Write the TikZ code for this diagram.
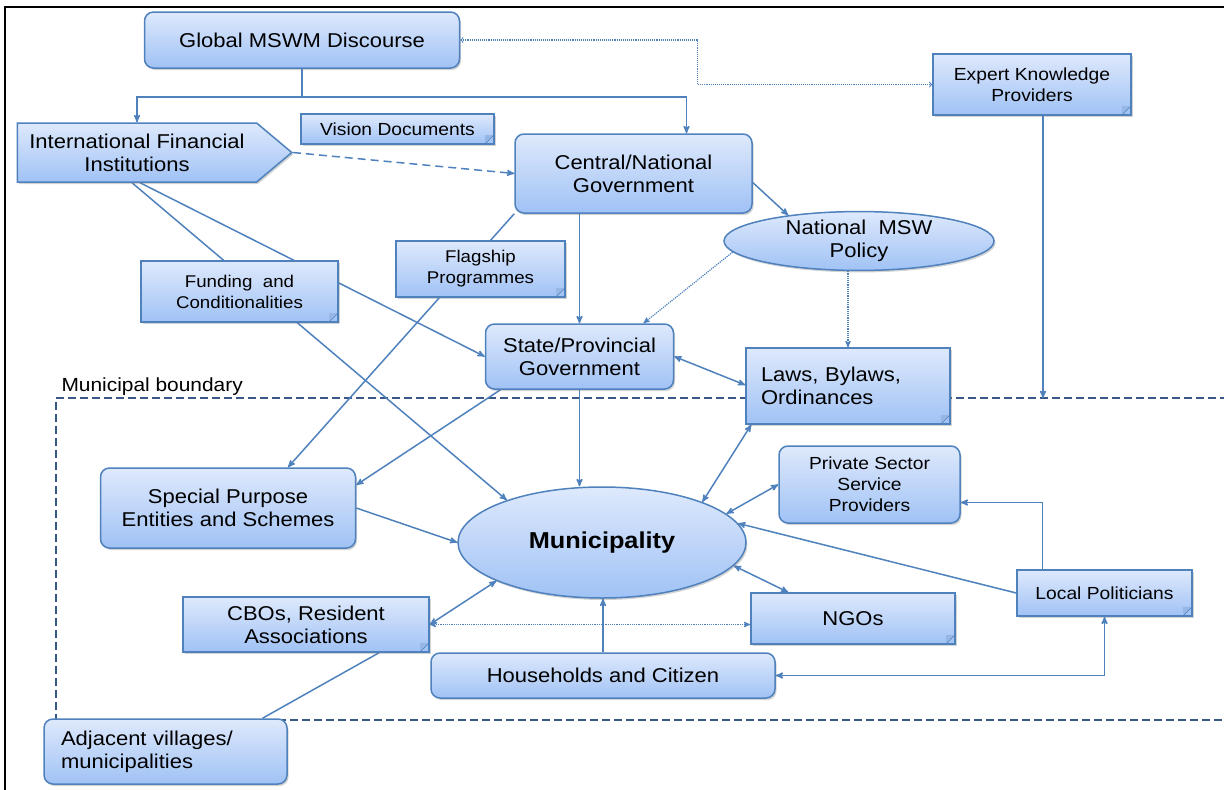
\documentclass[tikz,border=0pt]{standalone}
\usepackage{fontspec}
\setmainfont{Liberation Sans}[FakeStretch=1.1]
\usetikzlibrary{arrows,positioning,calc,shapes.geometric,shapes.symbols,shadows}
\pgfdeclarelayer{background}
\pgfsetlayers{background,main}
\tikzset{
	>=stealth',
}
\definecolor{boxline}{RGB}{79,129,189}
\definecolor{boxtop}{RGB}{222,233,252}
\definecolor{boxbottom}{RGB}{160,194,245}
\definecolor{boxfold}{RGB}{150,183,230}
\definecolor{boundline}{RGB}{58,88,135}

\begin{document}
\begin{tikzpicture}[x=1pt, y=-1pt,
basebox/.style = {draw=boxline, line width=1.5pt, top color=boxtop, bottom color=boxbottom, drop shadow={shadow xshift=1.5pt, shadow yshift=-2pt, opacity=0.35}, align=center, inner sep=0pt, font=\fontsize{20}{23}\selectfont},
roundbox/.style = {basebox, rectangle, rounded corners=9pt},
notebox/.style = {basebox, rectangle, path picture={
	\fill[boxfold] ($(path picture bounding box.south east)+(-9pt,0pt)$) -- ++(9pt,9pt) -- ++(-9pt,0pt) -- cycle;
	\draw[boxline, line width=0.6pt] ($(path picture bounding box.south east)+(-9pt,0pt)$) -- ++(9pt,9pt);}},
ovalnode/.style = {basebox, ellipse},
flagnode/.style = {basebox, signal, signal to=east, signal pointer angle=80, inner xsep=12pt, minimum height=59pt},
smalltext/.style = {font=\fontsize{17.5}{21}\selectfont},
conn/.style = {draw=boxline, line width=1.5pt},
bound/.style = {draw=boundline, line width=2pt, dash pattern=on 8pt off 4pt}]
\useasboundingbox (0,0) rectangle (1224,790);
\draw[line width=2.2pt] (5,792) -- (5,7) -- (1226,7);

% outside the municipality
\node[roundbox, minimum width=315pt, minimum height=56pt] (globalbox) at (302,40) {Global MSWM Discourse};
\node[notebox, smalltext, minimum width=198pt, minimum height=61pt] (expertbox) at (1032,84.5) {Expert Knowledge\\Providers};
\node[flagnode] (ifibox) at (137,152.5) {International Financial\\Institutions};
\node[notebox, smalltext, minimum width=193pt, minimum height=30pt] (visionbox) at (397.5,129) {Vision Documents};
\node[roundbox, minimum width=237pt, minimum height=79pt] (centralbox) at (633.5,173.5) {Central/National\\Government};
\node[ovalnode, minimum width=270pt, minimum height=56pt] (policyell) at (859,241) {National\ \ MSW\\Policy};
\node[notebox, font=\fontsize{17}{21}\selectfont, minimum width=197pt, minimum height=61pt] (fundingbox) at (239.5,291.5) {Funding\ \ and\\Conditionalities};
\node[notebox, font=\fontsize{17}{21}\selectfont, minimum width=169pt, minimum height=56pt] (flagshipbox) at (480.5,269) {Flagship\\Programmes};
\node[roundbox, minimum width=188pt, minimum height=65pt] (statebox) at (579.5,356.5) {State/Provincial\\Government};
\node[notebox, minimum width=204pt, minimum height=76pt, text width=174pt, align=left] (lawsbox) at (848,386) {Laws, Bylaws,\\Ordinances};
\node[anchor=base west, font=\fontsize{19}{22}\selectfont] (bndlabel) at (58,391) {Municipal boundary};

% inside the municipality
\node[ovalnode, minimum width=288pt, minimum height=111pt, font=\fontsize{23}{26}\selectfont\bfseries] (municell) at (602,542.5) {Municipality};
\node[roundbox, smalltext, minimum width=181pt, minimum height=77pt] (privatebox) at (869.5,484.5) {Private Sector\\Service\\Providers};
\node[roundbox, minimum width=255pt, minimum height=80pt] (specialbox) at (228,508) {Special Purpose\\Entities and Schemes};
\node[notebox, minimum width=246pt, minimum height=55pt] (cbobox) at (306,624.5) {CBOs, Resident\\Associations};
\node[notebox, minimum width=204pt, minimum height=51pt] (ngobox) at (853,618.5) {NGOs};
\node[notebox, smalltext, minimum width=175pt, minimum height=46pt] (localbox) at (1104.5,593) {Local Politicians};
\node[roundbox, minimum width=344pt, minimum height=45pt] (housebox) at (603,675.5) {Households and Citizen};
\node[roundbox, minimum width=243pt, minimum height=65pt, text width=209pt, align=left] (adjbox) at (165.5,751.5) {Adjacent villages/\\municipalities};

\begin{pgfonlayer}{background}
\coordinate (bndnw) at (56,398);
\coordinate (bndne) at (1228,398);
\coordinate (bndsw) at (56,720);
\coordinate (bndse) at (1228,720);
\draw[bound] (bndne) -- (bndnw) -- (bndsw) -- (bndse);

\coordinate (globalfork) at ($(globalbox.south)+(0,28)$);
\draw[conn] (globalbox.south) -- (globalfork);
\draw[conn,->] (globalfork) -| (ifibox.north);
\draw[conn,->] (globalfork) -| ($(centralbox.north)+(53,0)$);
\draw[conn, line width=1.1pt, densely dotted, >=to, <->] (globalbox.east) -- ++(237,0) |- (expertbox.west);
\draw[conn, dash pattern=on 8pt off 5pt, ->] (ifibox.east) -- (centralbox.west);
\draw[conn,->] ($(ifibox.south)+(3,0)$) -- (statebox.west);
\draw[conn,->] ($(ifibox.south)+(-5,0)$) -- (municell.156);

\draw[conn,->] (centralbox.south -| statebox.north) -- (statebox.north);
\draw[conn,->] ($(centralbox.east)+(0,9)$) -- (policyell.160);
\draw[conn,->] (centralbox.south west) -- ($(specialbox.north)+(60,0)$);
\draw[conn, line width=1.2pt, densely dotted, ->] (policyell.185) -- ($(statebox.north)+(64,0)$);
\draw[conn, line width=1.2pt, densely dotted, ->] (policyell.south -| lawsbox.north) -- (lawsbox.north);
\draw[conn,<->] (statebox.east) -- ($(lawsbox.west)+(0,-1)$);
\draw[conn,->] ($(statebox.south)+(-79,0)$) -- ($(specialbox.east)+(0,-23)$);
\draw[conn,->] (statebox.south) -- (statebox.south |- municell.north);

\coordinate (expertfoot) at ($(expertbox.south)+(11,0)$);
\draw[conn,->] (expertfoot) -- (expertfoot |- bndne);

\draw[conn,<->] ($(lawsbox.south west)+(6,0)$) -- (municell.22);
\draw[conn,<->] (privatebox.west) -- (municell.13);
\draw[conn,->] (localbox.west) -- (municell.8);
\draw[conn,->] ($(localbox.north)+(-62,0)$) |- ($(privatebox.east)+(0,18)$);
\draw[conn,<->] (municell.-10) -- ($(ngobox.north west)+(38,0)$);
\draw[conn,->] (specialbox.east) -- (municell.180);
\draw[conn,<->] (cbobox.east) -- (municell.200);
\draw[conn, line width=1.2pt, densely dotted, <->] (cbobox.east) -- (cbobox.east -| ngobox.west);
\draw[conn,->] (housebox.north) -- (housebox.north |- municell.south);
\draw[conn,<->] (housebox.east) -| (localbox.south);
\draw[conn] ($(cbobox.south)+(73,0)$) -- ($(adjbox.north)+(97,0)$);
\end{pgfonlayer}
\end{tikzpicture}
\end{document}
